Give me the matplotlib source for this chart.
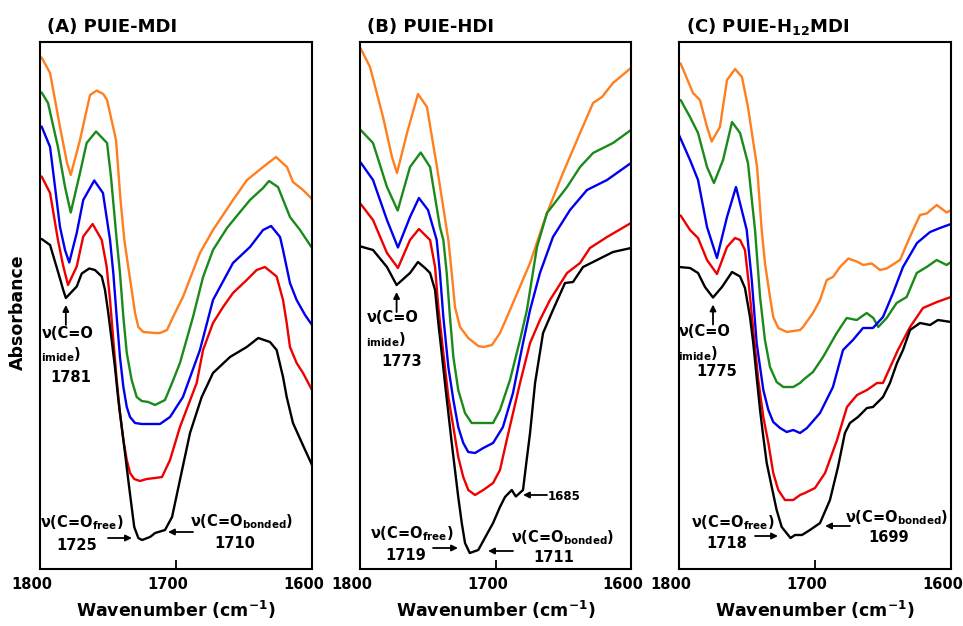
import matplotlib
matplotlib.use("Agg")
import matplotlib.pyplot as plt
from matplotlib.transforms import ScaledTranslation

plt.rcParams['font.family'] = ['DejaVu Sans']
plt.rcParams['font.weight'] = 'bold'
plt.rcParams['mathtext.fontset'] = 'custom'
plt.rcParams['mathtext.rm'] = 'DejaVu Sans:bold'
plt.rcParams['mathtext.it'] = 'DejaVu Sans:bold'
plt.rcParams['mathtext.bf'] = 'DejaVu Sans:bold'
plt.rcParams['mathtext.default'] = 'rm'

# ---------------- spectra, absorbance in arbitrary units (offset-stacked) ----------------
# (A) PUIE-MDI
a_wn_black = [1798.8, 1792.6, 1786.5, 1782.9, 1781.0, 1773.0, 1769.3, 1763.8, 1759.6, 1754.6,
              1752.2, 1749.8, 1747.3, 1744.9, 1742.4, 1739.9, 1737.5, 1735.1, 1732.6, 1730.7,
              1727.7, 1725.0, 1719.1, 1715.4, 1708.1, 1702.9, 1697.1, 1689.7, 1681.1, 1672.8,
              1660.3, 1648.0, 1639.5, 1630.9, 1626.0, 1621.3, 1618.6, 1614.0, 1607.4, 1600.0]
a_black = [0.660, 0.648, 0.592, 0.558, 0.542, 0.565, 0.591, 0.601, 0.598, 0.585,
           0.558, 0.512, 0.458, 0.404, 0.338, 0.284, 0.232, 0.178, 0.124, 0.084,
           0.062, 0.058, 0.064, 0.072, 0.078, 0.104, 0.178, 0.272, 0.344, 0.392,
           0.424, 0.444, 0.462, 0.454, 0.438, 0.384, 0.344, 0.292, 0.252, 0.208]

a_wn_red = [1798.8, 1792.6, 1786.8, 1783.1, 1779.4, 1773.0, 1768.2, 1761.3, 1754.6, 1751.0,
            1748.5, 1746.1, 1743.6, 1741.2, 1738.7, 1736.2, 1733.8, 1730.7, 1726.5, 1721.5,
            1715.4, 1710.3, 1704.4, 1697.1, 1684.8, 1680.1, 1672.8, 1665.4, 1658.1, 1648.0,
            1640.7, 1634.6, 1626.0, 1621.3, 1618.6, 1616.2, 1611.3, 1606.6, 1600.0]
a_red = [0.785, 0.752, 0.658, 0.608, 0.568, 0.605, 0.665, 0.690, 0.658, 0.605,
         0.538, 0.458, 0.378, 0.312, 0.258, 0.218, 0.192, 0.180, 0.176, 0.180,
         0.182, 0.184, 0.218, 0.284, 0.372, 0.438, 0.492, 0.524, 0.552, 0.578,
         0.598, 0.604, 0.585, 0.538, 0.492, 0.444, 0.412, 0.392, 0.358]

a_wn_blue = [1798.8, 1792.6, 1785.3, 1781.6, 1778.5, 1773.0, 1768.2, 1760.1, 1753.7, 1748.5,
             1746.1, 1743.6, 1741.2, 1738.7, 1736.2, 1733.8, 1730.1, 1725.2, 1715.4, 1711.8,
             1704.4, 1694.9, 1682.4, 1672.8, 1658.1, 1645.6, 1636.0, 1630.1, 1623.5, 1621.3,
             1616.2, 1611.3, 1605.1, 1600.0]
a_blue = [0.885, 0.844, 0.684, 0.638, 0.613, 0.672, 0.738, 0.777, 0.752, 0.658,
          0.592, 0.504, 0.424, 0.364, 0.324, 0.304, 0.292, 0.290, 0.290, 0.290,
          0.304, 0.344, 0.438, 0.538, 0.612, 0.644, 0.678, 0.686, 0.664, 0.638,
          0.572, 0.538, 0.508, 0.488]

a_wn_green = [1798.8, 1794.1, 1786.8, 1781.6, 1777.4, 1770.6, 1765.7, 1758.8, 1750.7, 1747.8,
              1743.6, 1741.2, 1738.7, 1736.2, 1732.6, 1728.9, 1725.2, 1720.4, 1715.4, 1708.1,
              1702.9, 1697.1, 1687.5, 1680.1, 1672.8, 1662.5, 1652.9, 1645.6, 1636.0, 1631.6,
              1625.0, 1616.2, 1608.8, 1600.0]
a_green = [0.953, 0.932, 0.844, 0.764, 0.713, 0.792, 0.852, 0.875, 0.852, 0.784,
           0.658, 0.592, 0.504, 0.432, 0.378, 0.344, 0.336, 0.334, 0.328, 0.338,
           0.372, 0.412, 0.504, 0.584, 0.638, 0.682, 0.714, 0.738, 0.762, 0.776,
           0.764, 0.704, 0.678, 0.642]

a_wn_orange = [1798.8, 1792.6, 1785.3, 1780.1, 1777.4, 1770.6, 1765.7, 1763.2, 1758.3, 1753.5,
               1750.7, 1744.1, 1740.8, 1738.0, 1735.1, 1732.6, 1730.1, 1727.7, 1724.0, 1715.4,
               1711.8, 1706.6, 1702.2, 1694.9, 1682.4, 1672.8, 1658.1, 1647.8, 1636.0, 1626.5,
               1618.4, 1614.0, 1606.6, 1600.0]
a_orange = [1.023, 0.992, 0.884, 0.812, 0.788, 0.858, 0.918, 0.948, 0.957, 0.950,
            0.938, 0.858, 0.738, 0.658, 0.604, 0.558, 0.512, 0.484, 0.474, 0.472,
            0.472, 0.478, 0.504, 0.544, 0.632, 0.678, 0.738, 0.778, 0.804, 0.824,
            0.804, 0.774, 0.758, 0.740]

# (B) PUIE-HDI
b_wn_black = [1799.5, 1790.4, 1780.1, 1773.0, 1763.1, 1757.2, 1752.0, 1748.3, 1744.6, 1742.2,
              1739.7, 1737.3, 1734.8, 1732.3, 1729.9, 1727.5, 1724.9, 1722.5, 1719.0, 1712.7,
              1701.8, 1696.7, 1693.0, 1688.0, 1685.0, 1679.7, 1677.0, 1674.5, 1670.8, 1664.9,
              1657.6, 1648.7, 1642.8, 1635.4, 1628.0, 1620.7, 1613.3, 1600.0]
b_black = [0.645, 0.638, 0.604, 0.568, 0.592, 0.614, 0.602, 0.592, 0.558, 0.492,
           0.432, 0.372, 0.312, 0.252, 0.198, 0.144, 0.092, 0.052, 0.032, 0.038,
           0.092, 0.124, 0.144, 0.158, 0.145, 0.158, 0.218, 0.272, 0.372, 0.472,
           0.518, 0.572, 0.574, 0.604, 0.614, 0.624, 0.634, 0.642]

b_wn_red = [1799.5, 1790.4, 1780.1, 1772.0, 1763.1, 1756.5, 1748.3, 1744.6, 1742.2, 1738.5,
            1734.8, 1731.1, 1727.5, 1723.8, 1720.1, 1715.1, 1709.0, 1701.8, 1696.7, 1691.7,
            1681.9, 1674.5, 1667.2, 1659.8, 1647.2, 1637.6, 1630.3, 1617.7, 1600.0]
b_red = [0.730, 0.698, 0.632, 0.602, 0.658, 0.680, 0.658, 0.604, 0.524, 0.432,
         0.344, 0.284, 0.224, 0.184, 0.158, 0.148, 0.158, 0.172, 0.198, 0.258,
         0.372, 0.452, 0.498, 0.538, 0.592, 0.612, 0.642, 0.664, 0.692]

b_wn_blue = [1799.5, 1790.4, 1780.1, 1772.0, 1763.1, 1756.5, 1749.8, 1743.4, 1741.0, 1738.5,
             1734.8, 1731.1, 1727.5, 1723.8, 1720.1, 1715.1, 1709.0, 1701.8, 1694.5, 1687.1,
             1679.7, 1674.5, 1667.2, 1657.6, 1645.0, 1632.5, 1617.7, 1600.0]
b_blue = [0.813, 0.778, 0.698, 0.643, 0.704, 0.742, 0.718, 0.658, 0.592, 0.504,
          0.404, 0.338, 0.284, 0.252, 0.234, 0.232, 0.242, 0.252, 0.284, 0.352,
          0.452, 0.518, 0.592, 0.664, 0.718, 0.758, 0.778, 0.812]

b_wn_green = [1799.5, 1790.4, 1780.1, 1772.2, 1763.1, 1755.2, 1748.3, 1741.0, 1738.5, 1736.0,
              1733.6, 1731.1, 1727.5, 1722.5, 1717.6, 1709.0, 1701.8, 1696.7, 1689.3, 1681.9,
              1676.8, 1669.4, 1662.0, 1654.6, 1647.2, 1637.6, 1628.0, 1613.3, 1600.0]
b_green = [0.878, 0.852, 0.764, 0.717, 0.804, 0.833, 0.804, 0.684, 0.658, 0.592,
           0.504, 0.424, 0.358, 0.312, 0.292, 0.292, 0.292, 0.318, 0.378, 0.458,
           0.518, 0.644, 0.712, 0.738, 0.764, 0.804, 0.832, 0.852, 0.878]

b_wn_orange = [1799.5, 1792.6, 1783.0, 1776.4, 1772.7, 1765.3, 1757.2, 1750.6, 1743.2, 1734.8,
               1732.3, 1729.9, 1726.2, 1720.1, 1712.7, 1709.0, 1702.6, 1696.7, 1689.3, 1674.5,
               1662.0, 1650.2, 1637.6, 1628.0, 1621.4, 1613.3, 1600.0]
b_orange = [1.041, 1.004, 0.904, 0.824, 0.792, 0.872, 0.950, 0.924, 0.804, 0.658,
            0.592, 0.524, 0.484, 0.462, 0.446, 0.444, 0.448, 0.472, 0.518, 0.612,
            0.712, 0.792, 0.872, 0.932, 0.944, 0.972, 1.002]

# (C) PUIE-H12MDI
c_wn_black = [1800.0, 1791.9, 1786.0, 1780.9, 1775.0, 1768.4, 1761.0, 1755.1, 1751.5, 1747.8,
              1745.4, 1742.9, 1740.4, 1738.0, 1735.5, 1731.8, 1728.2, 1724.5, 1718.0, 1714.7,
              1709.6, 1703.7, 1696.3, 1689.0, 1683.1, 1678.0, 1674.3, 1668.4, 1661.8, 1657.4,
              1650.0, 1644.9, 1639.7, 1635.3, 1630.1, 1622.8, 1615.4, 1609.6, 1600.0]
c_black = [0.604, 0.602, 0.592, 0.564, 0.543, 0.564, 0.594, 0.585, 0.562, 0.504,
           0.452, 0.384, 0.318, 0.264, 0.212, 0.164, 0.118, 0.084, 0.062, 0.068,
           0.068, 0.078, 0.092, 0.138, 0.204, 0.272, 0.292, 0.304, 0.322, 0.324,
           0.344, 0.372, 0.412, 0.438, 0.478, 0.492, 0.488, 0.498, 0.494]

c_wn_red = [1798.8, 1791.9, 1786.0, 1779.4, 1772.1, 1764.7, 1758.8, 1755.1, 1751.5, 1749.0,
            1745.4, 1741.7, 1738.0, 1734.3, 1730.7, 1727.0, 1722.1, 1716.0, 1711.0, 1707.4,
            1700.0, 1692.6, 1683.8, 1676.5, 1669.1, 1661.8, 1654.4, 1650.0, 1639.0, 1630.1,
            1620.6, 1610.3, 1600.0]
c_red = [0.707, 0.678, 0.662, 0.618, 0.590, 0.644, 0.662, 0.658, 0.638, 0.578,
         0.478, 0.378, 0.304, 0.252, 0.192, 0.158, 0.138, 0.138, 0.148, 0.152,
         0.162, 0.192, 0.258, 0.324, 0.348, 0.358, 0.372, 0.372, 0.438, 0.484,
         0.522, 0.534, 0.544]

c_wn_blue = [1800.0, 1791.9, 1786.0, 1779.4, 1772.1, 1764.7, 1758.1, 1750.2, 1746.5, 1742.9,
             1738.0, 1734.3, 1730.7, 1725.7, 1720.8, 1716.0, 1711.0, 1705.9, 1696.3, 1686.8,
             1679.4, 1672.1, 1664.7, 1657.4, 1650.0, 1642.6, 1635.3, 1625.0, 1615.4, 1608.1,
             1600.0]
c_blue = [0.868, 0.818, 0.778, 0.684, 0.622, 0.704, 0.764, 0.678, 0.578, 0.452,
          0.358, 0.318, 0.294, 0.282, 0.274, 0.278, 0.272, 0.282, 0.312, 0.364,
          0.438, 0.458, 0.482, 0.482, 0.504, 0.552, 0.604, 0.652, 0.674, 0.682,
          0.690]

c_wn_green = [1798.8, 1791.9, 1786.0, 1779.4, 1774.3, 1767.6, 1761.0, 1755.1, 1749.3, 1744.1,
              1740.4, 1736.8, 1733.1, 1728.2, 1723.3, 1716.0, 1711.0, 1708.8, 1701.5, 1694.1,
              1684.0, 1676.7, 1669.3, 1662.0, 1657.1, 1653.5, 1647.3, 1640.0, 1632.6, 1625.2,
              1617.9, 1610.5, 1603.2, 1600.0]
c_green = [0.938, 0.904, 0.872, 0.804, 0.772, 0.818, 0.894, 0.872, 0.812, 0.678,
           0.544, 0.458, 0.404, 0.374, 0.364, 0.364, 0.372, 0.378, 0.394, 0.424,
           0.472, 0.502, 0.498, 0.512, 0.502, 0.484, 0.502, 0.532, 0.544, 0.592,
           0.604, 0.618, 0.608, 0.614]

c_wn_orange = [1798.8, 1789.7, 1784.6, 1779.4, 1776.0, 1769.9, 1764.7, 1758.8, 1753.7, 1749.3,
               1742.6, 1739.2, 1736.8, 1733.1, 1730.7, 1727.0, 1720.8, 1711.0, 1708.8, 1701.5,
               1696.3, 1691.4, 1686.8, 1681.6, 1675.5, 1669.3, 1664.5, 1658.3, 1652.2, 1647.3,
               1637.5, 1630.1, 1622.8, 1617.9, 1610.5, 1603.2, 1600.0]
c_orange = [1.011, 0.952, 0.938, 0.884, 0.855, 0.884, 0.978, 1.000, 0.984, 0.924,
            0.804, 0.678, 0.612, 0.544, 0.504, 0.482, 0.474, 0.478, 0.484, 0.512,
            0.538, 0.578, 0.584, 0.604, 0.621, 0.615, 0.608, 0.611, 0.598, 0.601,
            0.618, 0.665, 0.708, 0.711, 0.728, 0.713, 0.718]

panel_titles = ["(A) PUIE-MDI", "(B) PUIE-HDI", "(C) PUIE-H$_{12}$MDI"]
tick_values = [1800, 1700, 1600]
tick_labels = ["1800", "1700", "1600"]

colors = {"black": "#000000", "red": "#EE0000", "blue": "#0000EE",
          "green": "#1A8A1A", "orange": "#FF7F1E"}

panels = [
    [(a_wn_orange, a_orange, "orange"), (a_wn_green, a_green, "green"),
     (a_wn_blue, a_blue, "blue"), (a_wn_red, a_red, "red"), (a_wn_black, a_black, "black")],
    [(b_wn_orange, b_orange, "orange"), (b_wn_green, b_green, "green"),
     (b_wn_blue, b_blue, "blue"), (b_wn_red, b_red, "red"), (b_wn_black, b_black, "black")],
    [(c_wn_orange, c_orange, "orange"), (c_wn_green, c_green, "green"),
     (c_wn_blue, c_blue, "blue"), (c_wn_red, c_red, "red"), (c_wn_black, c_black, "black")],
]

# peak annotations: imide band, free C=O, bonded C=O
imide_peaks = [(1781, 0.542), (1773, 0.568), (1775, 0.543)]
imide_labels = ["1781", "1773", "1775"]
imide_text = [(1798.5, 0.470, 0.428, 1777.2, 0.382),
              (1794.8, 0.504, 0.458, 1769.4, 0.416),
              (1800.5, 0.476, 0.430, 1772.4, 0.394)]
free_labels = ["1725", "1719", "1718"]
free_text = [(1769.5, 0.092, 1773.2, 0.048), (1762.0, 0.070, 1766.1, 0.026),
             (1760.7, 0.092, 1765.1, 0.050)]
free_arrow = [(1750.0, 1732.4, 0.062), (1746.1, 1727.7, 0.042), (1744.1, 1727.2, 0.066)]
bonded_labels = ["1710", "1711", "1699"]
bonded_text = [(1651.5, 0.094, 1656.6, 0.052), (1650.6, 0.062, 1656.8, 0.022),
               (1640.1, 0.102, 1646.0, 0.064)]
bonded_arrow = [(1687.5, 1705.9, 0.074), (1687.1, 1705.5, 0.036), (1674.3, 1692.6, 0.086)]

fig = plt.figure(figsize=(9.63, 6.26), dpi=100)
lefts = [40 / 963, 360 / 963, 679 / 963]
widths = [272 / 963, 271 / 963, 272 / 963]

arrow_kw = dict(arrowstyle='-|>', color='k', lw=1.3, mutation_scale=9,
                shrinkA=0, shrinkB=0)
fs_ann = 10.5

for i, ax_left in enumerate(lefts):
    ax = fig.add_axes([ax_left, 57 / 626, widths[i], 527 / 626])
    for wn, ab, cname in panels[i]:
        ax.plot(wn, ab, color=colors[cname], lw=1.7, solid_joinstyle='round',
                solid_capstyle='round')
    ax.set_xlim(1800, 1600)
    ax.set_ylim(0, 1.054)
    ax.set_yticks([])
    ax.set_xticks(tick_values)
    ax.set_xticklabels(tick_labels)
    ax.tick_params(axis='x', direction='in', length=6.5, width=1.3, labelsize=10.5,
                   pad=6, top=False)
    for sp in ax.spines.values():
        sp.set_linewidth(1.5)
    shift = ScaledTranslation(-8 / 100, 0, fig.dpi_scale_trans)
    for lbl in ax.get_xticklabels():
        lbl.set_transform(lbl.get_transform() + shift)
        lbl.set_fontweight('bold')
    ax.set_xlabel("Wavenumber (cm$^{-1}$)", fontsize=12.5, fontweight='bold', labelpad=5)
    ax.text(0.026, 1.019, panel_titles[i], transform=ax.transAxes, fontsize=13,
            fontweight='bold', ha='left', va='baseline')

    # imide C=O band
    px, py = imide_peaks[i]
    ax.annotate("", xy=(px, py - 0.014), xytext=(px, py - 0.054), arrowprops=arrow_kw)
    tx, ty1, ty2, nx, ny = imide_text[i]
    ax.text(tx, ty1, "ν(C=O", fontsize=fs_ann, ha='left', va='center')
    ax.text(tx + 0.5, ty2, "${}_{imide}$)", fontsize=fs_ann, ha='left', va='center')
    ax.text(nx, ny, imide_labels[i], fontsize=fs_ann, ha='center', va='center')

    # free C=O
    fx, fy, fnx, fny = free_text[i]
    ax.text(fx, fy, "ν(C=O$_{free}$)", fontsize=fs_ann, ha='center', va='center')
    ax.text(fnx, fny, free_labels[i], fontsize=fs_ann, ha='center', va='center')
    a0, a1, ay = free_arrow[i]
    ax.annotate("", xy=(a1, ay), xytext=(a0, ay), arrowprops=arrow_kw)

    # hydrogen-bonded C=O
    bx, by, bnx, bny = bonded_text[i]
    ax.text(bx, by, "ν(C=O$_{bonded}$)", fontsize=fs_ann, ha='center', va='center')
    ax.text(bnx, bny, bonded_labels[i], fontsize=fs_ann, ha='center', va='center')
    b0, b1, bay = bonded_arrow[i]
    ax.annotate("", xy=(b1, bay), xytext=(b0, bay), arrowprops=arrow_kw)

    if i == 1:
        ax.annotate("", xy=(1679.7, 0.148), xytext=(1662.0, 0.148), arrowprops=arrow_kw)
        ax.text(1661.3, 0.144, "1685", fontsize=8.5, ha='left', va='center')

fig.text(18 / 963, 1 - 312 / 626, "Absorbance", rotation=90, fontsize=12.5,
         fontweight='bold', ha='center', va='center')

fig.savefig("out.png", dpi=100)
